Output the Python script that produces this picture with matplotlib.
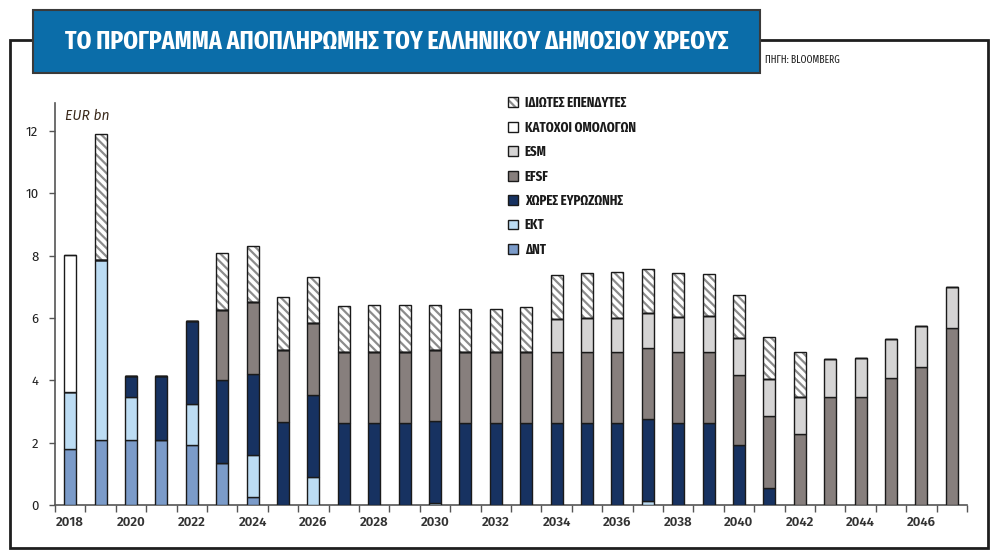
import numpy as np
import matplotlib.pyplot as plt
from matplotlib.patches import Rectangle, Patch
from matplotlib.legend_handler import HandlerTuple

years = list(range(2018, 2048))

# segment heights, EUR bn (bottom to top)
imf = [1.79, 2.09, 2.09, 2.09, 1.93, 1.34, 0.27] + [0] * 23
ecb = [1.85, 5.76, 1.37, 0, 1.32, 0, 1.32, 0, 0.91, 0, 0, 0, 0.07, 0, 0, 0,
       0, 0, 0, 0.12, 0, 0, 0, 0, 0, 0, 0, 0, 0, 0]
euro_countries = [0, 0, 0.69, 2.06, 2.65, 2.66, 2.62, 2.66, 2.63, 2.64, 2.64, 2.64,
                  2.63, 2.64, 2.64, 2.64, 2.64, 2.64, 2.64, 2.64, 2.64, 2.64,
                  1.93, 0.55, 0, 0, 0, 0, 0, 0]
efsf = [0, 0, 0, 0, 0, 2.27, 2.31, 2.30, 2.30, 2.27, 2.27, 2.27, 2.28, 2.27, 2.27,
        2.27, 2.27, 2.27, 2.27, 2.27, 2.27, 2.27, 2.25, 2.31, 2.27, 3.47, 3.47,
        4.07, 4.44, 5.69]
esm = [0] * 16 + [1.06, 1.08, 1.08, 1.13, 1.12, 1.16, 1.18, 1.17, 1.19, 1.21,
                  1.26, 1.25, 1.31, 1.31]
bondholders = [4.39] + [0] * 29
private = [0, 4.04, 0, 0, 0, 1.81, 1.78, 1.72, 1.49, 1.46, 1.52, 1.50, 1.45, 1.37,
           1.37, 1.43, 1.41, 1.45, 1.50, 1.40, 1.40, 1.34, 1.39, 1.35, 1.46,
           0, 0, 0, 0, 0]

labels = ["ΔΝΤ", "ΕΚΤ", "ΧΩΡΕΣ ΕΥΡΩΖΩΝΗΣ", "EFSF", "ESM",
          "ΚΑΤΟΧΟΙ ΟΜΟΛΟΓΩΝ", "ΙΔΙΩΤΕΣ ΕΠΕΝΔΥΤΕΣ"]
series = [imf, ecb, euro_countries, efsf, esm, bondholders, private]
colors = ["#7b9bc9", "#bcdcf3", "#173261", "#877f7d", "#d5d4d4", "#ffffff", "#ffffff"]

narrow = ["Fira Sans Extra Condensed", "DejaVu Sans"]
plain = ["Fira Sans", "DejaVu Sans"]
plt.rcParams['hatch.linewidth'] = 1.6

fig = plt.figure(figsize=(10, 5.56), dpi=100)
ax = fig.add_axes([0.055, 0.0917, 0.912, 0.7233])

x = np.arange(len(years))
w = 0.4
bottom = np.zeros(len(years))
handles = []
for lab, vals, col in zip(labels, series, colors):
    vals = np.array(vals, dtype=float)
    if lab == "ΙΔΙΩΤΕΣ ΕΠΕΝΔΥΤΕΣ":
        ax.bar(x, vals, w, bottom=bottom, color="white", edgecolor="#8c8c8c",
               hatch="\\\\\\\\", linewidth=0, zorder=2)
        ax.bar(x, vals, w, bottom=bottom, fill=False, edgecolor="#1a1a1a",
               linewidth=1.0, zorder=3)
        h = (Patch(facecolor="white", edgecolor="#8c8c8c", hatch="\\\\\\\\", linewidth=0),
             Patch(fill=False, edgecolor="#1a1a1a", linewidth=1.0))
    else:
        ax.bar(x, vals, w, bottom=bottom, color=col, edgecolor="#1a1a1a",
               linewidth=1.0, zorder=3)
        h = Patch(facecolor=col, edgecolor="#1a1a1a", linewidth=1.0)
    handles.append(h)
    bottom += vals

ax.set_xlim(-0.5, len(years) - 0.5)
ax.set_ylim(0, 12.9)
ax.set_yticks(range(0, 13, 2))
ax.set_yticklabels([str(v) for v in range(0, 13, 2)], family=plain, fontsize=9.5,
                   color="#222222")
ax.tick_params(axis='y', direction='out', length=4, width=1, pad=8, color="#555555")
ax.set_xticks(x[::2])
ax.set_xticklabels([str(y) for y in years[::2]], family=plain, fontsize=9.5,
                   fontweight="semibold", color="#333333")
ax.set_xticks(np.arange(-0.5, len(years), 1), minor=True)
ax.tick_params(axis='x', which='major', length=0, pad=8)
ax.tick_params(axis='x', which='minor', direction='out', length=5, width=1,
               color="#555555")
for s in ["top", "right"]:
    ax.spines[s].set_visible(False)
for s in ["left", "bottom"]:
    ax.spines[s].set_color("#555555")
    ax.spines[s].set_linewidth(1.2)

ax.text(0.011, 0.985, "EUR bn", transform=ax.transAxes, fontsize=10,
        style="italic", family=plain, color="#3b2a1c", va="top")

leg = ax.legend(handles[::-1], labels[::-1], loc="upper left",
                bbox_to_anchor=(0.508, 1 - 96 / 556), bbox_transform=fig.transFigure,
                frameon=False, borderpad=0, borderaxespad=0,
                handlelength=0.7, handleheight=0.7, handletextpad=0.5,
                labelspacing=0.74, handler_map={tuple: HandlerTuple(ndivide=1)},
                prop={"family": narrow, "weight": "bold", "size": 10})
for t in leg.get_texts():
    t.set_color("#1a1a1a")

# outer frame and title box
fig.patches.append(Rectangle((10 / 1000, 1 - 548 / 556), 978 / 1000, 508 / 556,
                             transform=fig.transFigure, fill=False,
                             edgecolor="#1e1e1e", linewidth=2))
fig.patches.append(Rectangle((33 / 1000, 1 - 73 / 556), 727 / 1000, 63 / 556,
                             transform=fig.transFigure, facecolor="#0b6da9",
                             edgecolor="#3a3a3a", linewidth=1.5, zorder=5))
fig.text(397 / 1000, 1 - 42 / 556, "ΤΟ ΠΡΟΓΡΑΜΜΑ ΑΠΟΠΛΗΡΩΜΗΣ ΤΟΥ ΕΛΛΗΝΙΚΟΥ ΔΗΜΟΣΙΟΥ ΧΡΕΟΥΣ",
         ha="center", va="center", color="white", fontsize=18.5, fontweight="bold",
         family=narrow, zorder=6)
fig.text(765 / 1000, 1 - 60 / 556, "ΠΗΓΗ: BLOOMBERG", ha="left", va="center",
         color="#222222", fontsize=7.5, family=narrow)

fig.savefig("out.png", dpi=100)
